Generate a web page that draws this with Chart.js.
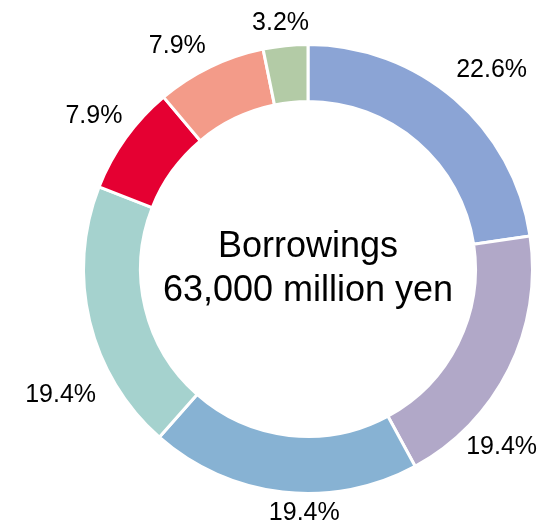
<!DOCTYPE html>
<html>
<head>
<meta charset="utf-8">
<script src="https://cdn.jsdelivr.net/npm/chart.js@4"></script>
<style>
  html, body { margin: 0; padding: 0; background: #fff; }
  canvas { display: block; }
</style>
</head>
<body>
<canvas id="borrowingsChart" width="542" height="523"></canvas>
<script>
// Breakdown of borrowings, clockwise from 12 o'clock
const lenders = ['Lender A', 'Lender B', 'Lender C', 'Lender D', 'Lender E', 'Lender F', 'Lender G'];
const shares = [22.6, 19.4, 19.4, 19.4, 7.9, 7.9, 3.2];
const centerLines = ['Borrowings', '63,000 million yen'];

const sliceColors = ['#8ba4d5', '#b1a8c8', '#87b2d3', '#a5d2ce', '#e50032', '#f39b89', '#b3cba6'];

// hand tweaks so the outside labels sit where they read best
const labelNudge = [[7, 6], [-53, 55], [25, -8], [21, 62], [4, 4], [-17, 12], [-2, 6]];

const FONT = '"Liberation Sans", Arial, sans-serif';

const sliceLabels = {
  id: 'sliceLabels',
  afterDatasetsDraw(chart) {
    const { ctx } = chart;
    const meta = chart.getDatasetMeta(0);
    ctx.save();
    ctx.fillStyle = '#000';
    ctx.font = '25px ' + FONT;
    ctx.textAlign = 'center';
    ctx.textBaseline = 'middle';
    meta.data.forEach((arc, i) => {
      const { x, y, startAngle, endAngle, outerRadius } = arc.getProps(['x', 'y', 'startAngle', 'endAngle', 'outerRadius'], true);
      const mid = (startAngle + endAngle) / 2;
      const ux = Math.cos(mid), uy = Math.sin(mid);
      const text = shares[i].toFixed(1) + '%';
      const halfW = ctx.measureText(text).width / 2;
      const halfH = 11;
      // push the label box out until it clears the ring
      const d = outerRadius - 1.5 + 16 + Math.abs(ux) * halfW + Math.abs(uy) * halfH;
      const [nx, ny] = labelNudge[i];
      ctx.fillText(text, x + ux * d + nx, y + uy * d + ny);
    });

    // title in the hole
    const c = meta.data[0];
    ctx.font = '36px ' + FONT;
    ctx.textBaseline = 'alphabetic';
    ctx.fillText(centerLines[0], c.x, c.y - 12);
    ctx.fillText(centerLines[1], c.x, c.y + 32);
    ctx.restore();
  }
};

new Chart(document.getElementById('borrowingsChart').getContext('2d'), {
  type: 'doughnut',
  data: {
    labels: lenders,
    datasets: [{
      data: shares,
      backgroundColor: sliceColors,
      borderColor: '#fff',
      borderWidth: 3
    }]
  },
  options: {
    responsive: false,
    animation: false,
    radius: 224.5,
    cutout: '74.6%',
    layout: { padding: { left: 74, right: 0, top: 15, bottom: 0 } },
    plugins: {
      legend: { display: false },
      tooltip: { enabled: false }
    }
  },
  plugins: [sliceLabels]
});
</script>
</body>
</html>
